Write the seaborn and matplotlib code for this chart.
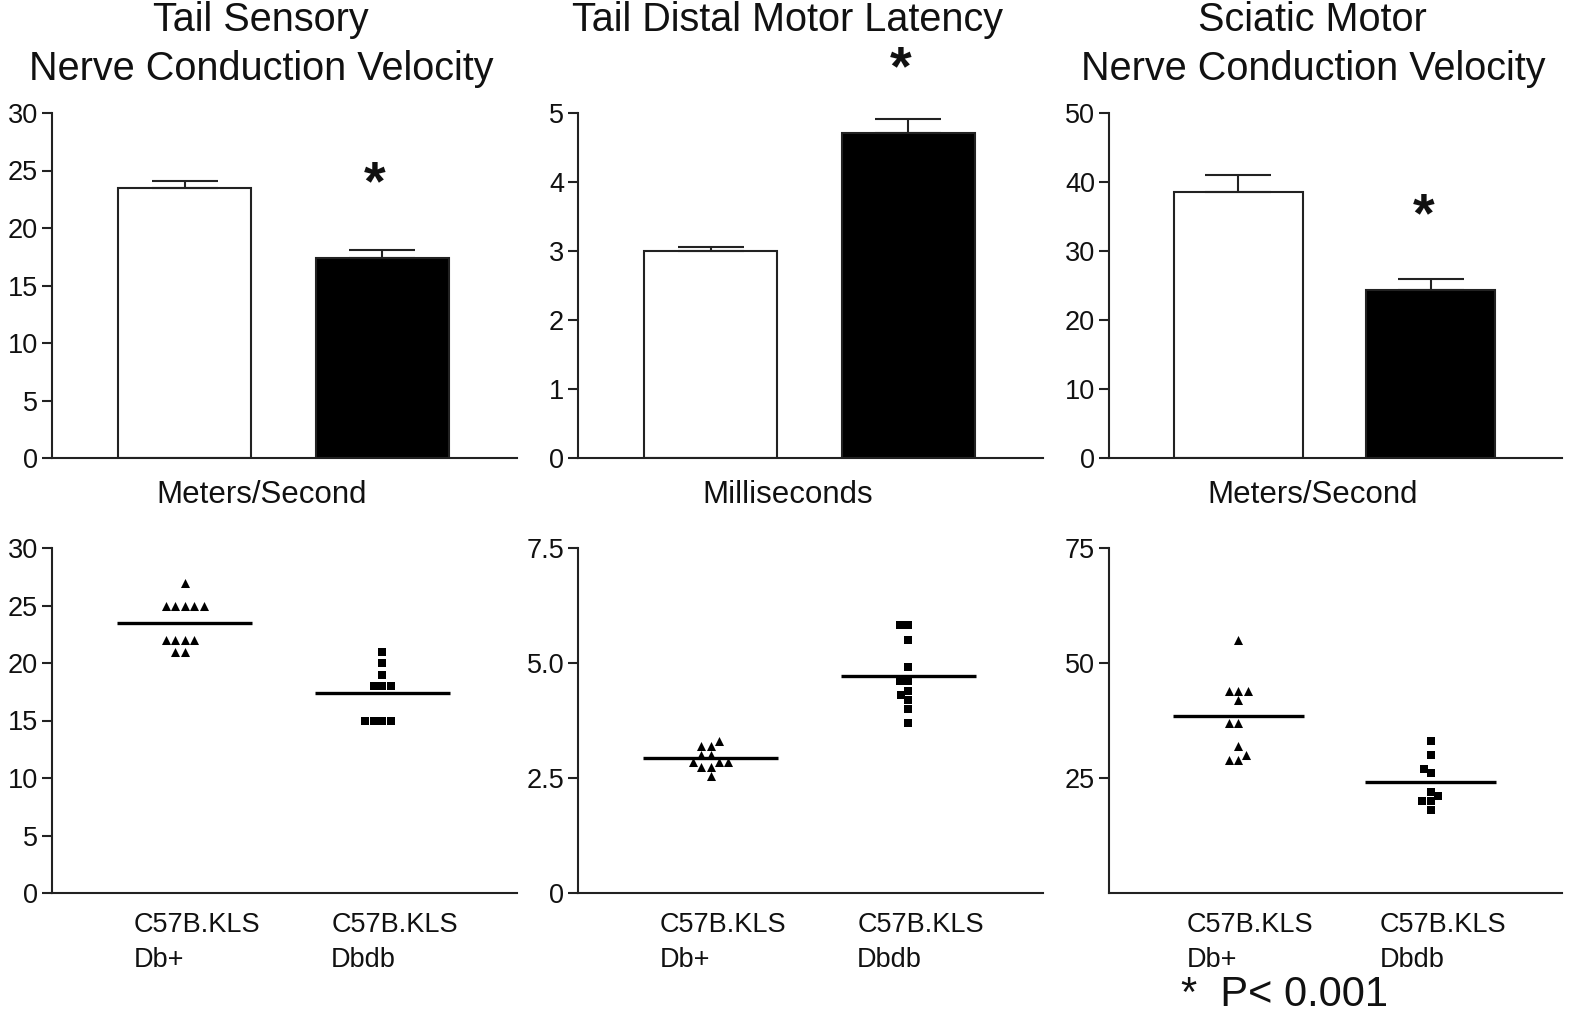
import numpy as np
import pandas as pd
import matplotlib
matplotlib.use('Agg')
import matplotlib.pyplot as plt
import matplotlib.transforms as mtrans
import seaborn as sns

sns.set_style('ticks')
plt.rcParams['font.family'] = ['Liberation Sans', 'DejaVu Sans']
plt.rcParams['text.color'] = '#111111'
plt.rcParams['xtick.labelcolor'] = '#111111'
plt.rcParams['ytick.labelcolor'] = '#111111'
plt.rcParams['axes.labelcolor'] = '#111111'

# Groups and panel texts
groups = ['C57B.KLS\nDb+', 'C57B.KLS\nDbdb']
titles = ['Tail Sensory\nNerve Conduction Velocity',
          'Tail Distal Motor Latency',
          'Sciatic Motor\nNerve Conduction Velocity']
units = ['Meters/Second', 'Milliseconds', 'Meters/Second']

# Bar chart values (mean, SEM)
sensory_mean = [23.5, 17.4]
sensory_sem = [0.6, 0.7]
latency_mean = [3.0, 4.71]
latency_sem = [0.06, 0.21]
sciatic_mean = [38.6, 24.3]
sciatic_sem = [2.4, 1.7]

# Individual animals
sensory_db = [27, 25, 25, 25, 25, 25, 22, 22, 22, 22, 21, 21]
sensory_dbdb = [21, 20, 19, 18, 18, 18, 15, 15, 15, 15]
latency_db = [3.3, 3.2, 3.2, 3.0, 3.0, 2.85, 2.85, 2.85, 2.75, 2.75, 2.55]
latency_dbdb = [5.82, 5.82, 5.51, 4.91, 4.6, 4.6, 4.4, 4.3, 4.19, 4.0, 3.7]
sciatic_db = [55, 44, 44, 44, 42, 37, 37, 32, 30, 29, 29]
sciatic_dbdb = [33, 30, 27, 26, 22, 21, 20, 20, 18]

# Axis settings
bar_ylim = [30, 5, 50]
bar_yticks = [np.arange(0, 31, 5), np.arange(0, 6, 1), np.arange(0, 51, 10)]
dot_ylim = [30, 7.5, 75]
dot_yticks = [[0, 5, 10, 15, 20, 25, 30], [0, 2.5, 5.0, 7.5], [25, 50, 75]]
dot_yticklabels = [['0', '5', '10', '15', '20', '25', '30'],
                   ['0', '2.5', '5.0', '7.5'],
                   ['25', '50', '75']]
star_y = [22.5, 5.41, 32.8]

bar_means = [sensory_mean, latency_mean, sciatic_mean]
bar_sems = [sensory_sem, latency_sem, sciatic_sem]
dots = [(sensory_db, sensory_dbdb), (latency_db, latency_dbdb), (sciatic_db, sciatic_dbdb)]

fig = plt.figure(figsize=(15.76, 10.17), dpi=100)
W, H = 1576, 1017
cols = [(52, 517), (578, 1043), (1109, 1562)]
top_row = (113, 458)
bot_row = (548, 893)

line_col = '#222222'
xlim = (-0.67, 1.68)


def style_axis(ax):
    sns.despine(ax=ax)
    for s in ['left', 'bottom']:
        ax.spines[s].set_linewidth(1.5)
        ax.spines[s].set_color(line_col)
    ax.tick_params(axis='y', length=7, width=1.5, color=line_col, labelsize=19.5, pad=3)
    ax.set_xlim(*xlim)


for i in range(3):
    x0, x1 = cols[i]
    # --- bar chart ---
    ax = fig.add_axes([x0 / W, 1 - top_row[1] / H, (x1 - x0) / W, (top_row[1] - top_row[0]) / H])
    sns.barplot(x=groups, y=bar_means[i], hue=groups, palette=['white', 'black'],
                edgecolor=line_col, linewidth=1.5, width=0.67, legend=False, ax=ax)
    ax.errorbar(x=[0, 1], y=bar_means[i], yerr=[[0, 0], bar_sems[i]], fmt='none',
                ecolor=line_col, elinewidth=1.5, capsize=24, capthick=1.5)
    style_axis(ax)
    ax.set_ylim(0, bar_ylim[i])
    ax.set_yticks(bar_yticks[i])
    ax.set_xticks([])
    ax.set_xlabel(units[i], fontsize=22.5)
    ax.xaxis.set_label_coords(0.45, -0.065)
    ax.text(0.45, 1.325, titles[i], transform=ax.transAxes, ha='center', va='top',
            fontsize=28.5, linespacing=1.38)
    ax.text(0.96, star_y[i], '*', ha='center', va='baseline', fontsize=40,
            fontweight='bold', clip_on=False)

    # --- individual values ---
    ax = fig.add_axes([x0 / W, 1 - bot_row[1] / H, (x1 - x0) / W, (bot_row[1] - bot_row[0]) / H])
    db_vals, dbdb_vals = dots[i]
    df_db = pd.DataFrame({'group': groups[0], 'value': db_vals})
    df_dbdb = pd.DataFrame({'group': groups[1], 'value': dbdb_vals})
    sns.swarmplot(data=df_db, x='group', y='value', order=groups, marker='^',
                  color='black', size=6.5, linewidth=0, ax=ax)
    sns.swarmplot(data=df_dbdb, x='group', y='value', order=groups, marker='s',
                  color='black', size=6, linewidth=0, ax=ax)
    for j, vals in enumerate(dots[i]):
        ax.hlines(np.mean(vals), j - 0.34, j + 0.34, color='black', lw=2.4)
    style_axis(ax)
    ax.set_ylim(0, dot_ylim[i])
    ax.set_yticks(dot_yticks[i])
    ax.set_yticklabels(dot_yticklabels[i])
    ax.set_xlabel('')
    ax.set_ylabel('')
    ax.tick_params(axis='x', length=0, labelsize=19.5, pad=14)
    for lab in ax.get_xticklabels():
        lab.set_multialignment('left')
        lab.set_linespacing(1.42)
        lab.set_transform(lab.get_transform() + mtrans.ScaledTranslation(0.12, 0, fig.dpi_scale_trans))

fig.text(1181 / W, 1 - 1006 / H, '*  P< 0.001', fontsize=30, va='baseline', ha='left')

fig.savefig('out.png', dpi=100)
